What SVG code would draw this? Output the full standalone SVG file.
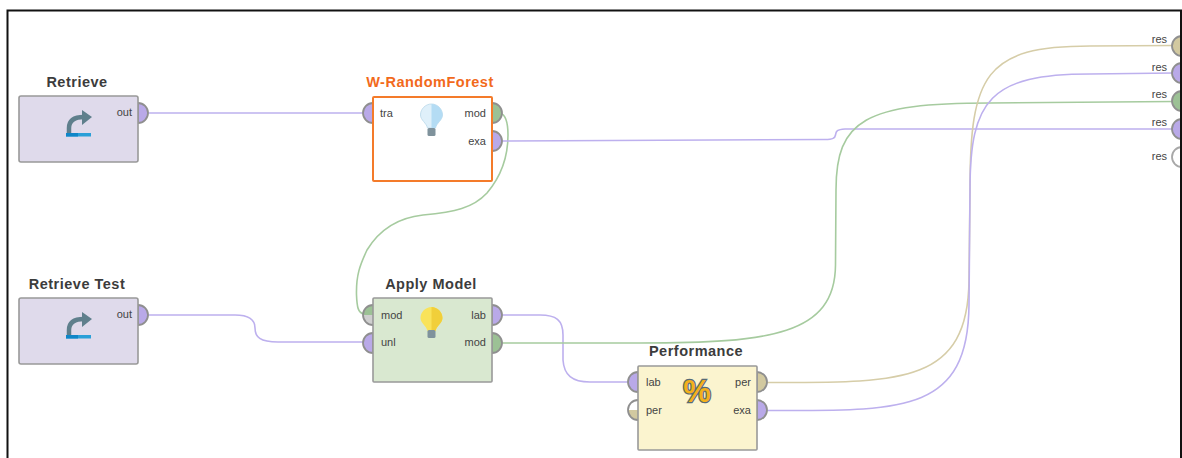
<svg xmlns="http://www.w3.org/2000/svg" width="1182" height="458" viewBox="0 0 1182 458">
<style>
text{font-family:"Liberation Sans",Arial,sans-serif;fill:#444}
.t{font-size:14.500px;font-weight:bold;text-anchor:middle;fill:#3c3c3c;letter-spacing:.5px}
.p{font-size:11px;fill:#444}
.e{text-anchor:end}
.b{stroke:#999;stroke-width:1.6}
.c{fill:none;stroke-width:1.6}
.cp{stroke:#bdb0ee}
.cg{stroke:#a6cb9f}
.ct{stroke:#d6cda8}
.pu{fill:#b9a9e8;stroke:#8f8f8f;stroke-width:1.8}
.gr{fill:#9cc195;stroke:#8f8f8f;stroke-width:1.8}
.ta{fill:#d2c9a0;stroke:#8f8f8f;stroke-width:1.8}
.wh{fill:#fff;stroke:#a8a8a8;stroke-width:1.8}
.ol{fill:none;stroke:#8f8f8f;stroke-width:1.8}
</style>
<defs>
<g id="ret">
<path d="M-9 9V4Q-9-7 6-7" fill="none" stroke="#5f7f8c" stroke-width="4.500"/>
<path d="M4-14L14-7L4 1Z" fill="#5f7f8c"/>
<rect x="-12" y="9" width="25" height="3.500" fill="#2a9fd8"/>
<rect x="-12" y="9" width="12" height="3.500" fill="#0f86c8"/>
</g>
<path id="bulb" d="M0-12C-6-12-11-7-11-1C-11 4-5 7-4 12H4C5 7 11 4 11-1C11-7 6-12 0-12Z"/>
<path id="bulbr" d="M0-12C6-12 11-7 11-1C11 4 5 7 4 12H0Z"/>
</defs>
<rect width="1182" height="458" fill="#fff"/>
<g id="connectors">
<path class="c cp" d="M147 113H364"/>
<path class="c cg" d="M500 113C507 115 508 125 508 135C508 160 498 180 487 193C473 208 455 212 423 215C395 218 378 232 367 250C360 265 356 275 356.500 295C357 307 358 313 364 314"/>
<path class="c cp" d="M501 141L825 139.500C833 139.500 835 138 835.500 135C836 131 837 129.500 845 129H1174"/>
<path class="c cp" d="M147 315H235C250 315 255 320 255 328C255 337 260 342 278 342H364"/>
<path class="c cp" d="M500 315H540C556 315 563 320 563 335V360C564 375 572 382 590 382H631"/>
<path class="c cg" d="M501 343H640C770 343 835 335 835.500 265L836 190C836 120 865 103 990 103L1174 101.500"/>
<path class="c ct" d="M767 382.500C900 382.500 968 385 969 280L970 190C970 75 985 46 1090 46L1174 45.500"/>
<path class="c cp" d="M767 410.500C900 410.500 968 415 969 305L970 190C970 100 990 74 1090 74L1174 73"/>
</g>
<g id="retrieve">
<text class="t" x="77" y="87">Retrieve</text>
<path class="pu" d="M138 103A10 10 0 0 1 138 123Z"/>
<rect class="b" x="19" y="96" width="119" height="66" rx="2" fill="#dfdaeb"/>
<text class="p e" x="132" y="116">out</text>
<use href="#ret" x="78" y="124"/>
</g>
<g id="retrieve-test">
<text class="t" x="77" y="289">Retrieve Test</text>
<path class="pu" d="M138 305A10 10 0 0 1 138 325Z"/>
<rect class="b" x="19" y="298" width="119" height="66" rx="2" fill="#dfdaeb"/>
<text class="p e" x="132" y="318">out</text>
<use href="#ret" x="78" y="326"/>
</g>
<g id="w-randomforest">
<text class="t" x="430" y="87" style="fill:#f26a1b">W-RandomForest</text>
<path class="pu" d="M373 103A10 10 0 0 0 373 123Z"/>
<path class="gr" d="M492 103A10 10 0 0 1 492 123Z"/>
<path class="pu" d="M492 131A10 10 0 0 1 492 151Z"/>
<rect x="373" y="97" width="119" height="84" rx="1" fill="#fff" stroke="#f47b2a" stroke-width="2"/>
<text class="p" x="380" y="117">tra</text>
<text class="p e" x="486" y="117">mod</text>
<text class="p e" x="486" y="145">exa</text>
<use href="#bulb" x="431.500" y="116" fill="#dff0fa" stroke="#c4dfee"/>
<use href="#bulbr" x="431.500" y="116" fill="#b4dcf4"/>
<rect x="427.500" y="128" width="8" height="8" rx="1.500" fill="#7f929c"/>
</g>
<g id="apply-model">
<text class="t" x="431" y="289">Apply Model</text>
<path d="M373 305A10 10 0 0 0 373 325Z" fill="#cfcfcf"/>
<path d="M373 315H363A10 10 0 0 1 373 305Z" fill="#9cc195"/>
<path class="ol" d="M373 305A10 10 0 0 0 373 325"/>
<path class="pu" d="M373 333A10 10 0 0 0 373 353Z"/>
<path class="pu" d="M492 305A10 10 0 0 1 492 325Z"/>
<path class="gr" d="M492 333A10 10 0 0 1 492 353Z"/>
<rect class="b" x="373" y="298" width="119" height="84" rx="1" fill="#d9e8d0"/>
<text class="p" x="381" y="319">mod</text>
<text class="p" x="381" y="346">unl</text>
<text class="p e" x="486" y="319">lab</text>
<text class="p e" x="486" y="346">mod</text>
<use href="#bulb" x="431.500" y="319" fill="#f9e35a"/>
<use href="#bulbr" x="431.500" y="319" fill="#f1cf3a"/>
<rect x="427.500" y="330" width="8" height="8" rx="1.500" fill="#7f929c"/>
</g>
<g id="performance">
<text class="t" x="696" y="356">Performance</text>
<path class="pu" d="M638 372A10 10 0 0 0 638 392Z"/>
<path d="M638 400A10 10 0 0 0 638 420Z" fill="#fff"/>
<path d="M638 410H628A10 10 0 0 0 638 420Z" fill="#d2c9a0"/>
<path class="ol" d="M638 400A10 10 0 0 0 638 420"/>
<path class="ta" d="M757 372A10 10 0 0 1 757 392Z"/>
<path class="pu" d="M757 400A10 10 0 0 1 757 420Z"/>
<rect class="b" x="638" y="366" width="119" height="84" rx="1" fill="#fbf4cf"/>
<text class="p" x="646" y="386">lab</text>
<text class="p" x="646" y="414">per</text>
<text class="p e" x="751" y="386">per</text>
<text class="p e" x="751" y="414">exa</text>
<text x="697" y="402" text-anchor="middle" font-size="31" font-weight="bold" style="fill:#f3b01c;stroke:#566a76;stroke-width:2.400;paint-order:stroke">%</text>
</g>
<g id="result-ports">
<text class="p e" x="1167" y="43">res</text>
<text class="p e" x="1167" y="71">res</text>
<text class="p e" x="1167" y="98">res</text>
<text class="p e" x="1167" y="126">res</text>
<text class="p e" x="1167" y="160">res</text>
<circle class="ta" cx="1182" cy="46" r="10"/>
<circle class="pu" cx="1182" cy="73" r="10"/>
<circle class="gr" cx="1182" cy="101" r="10"/>
<circle class="pu" cx="1182" cy="129" r="10"/>
<circle class="wh" cx="1182" cy="157" r="10"/>
</g>
<path id="frame" d="M7.500 458V10.500H1181V458" fill="none" stroke="#111" stroke-width="2"/>
</svg>
